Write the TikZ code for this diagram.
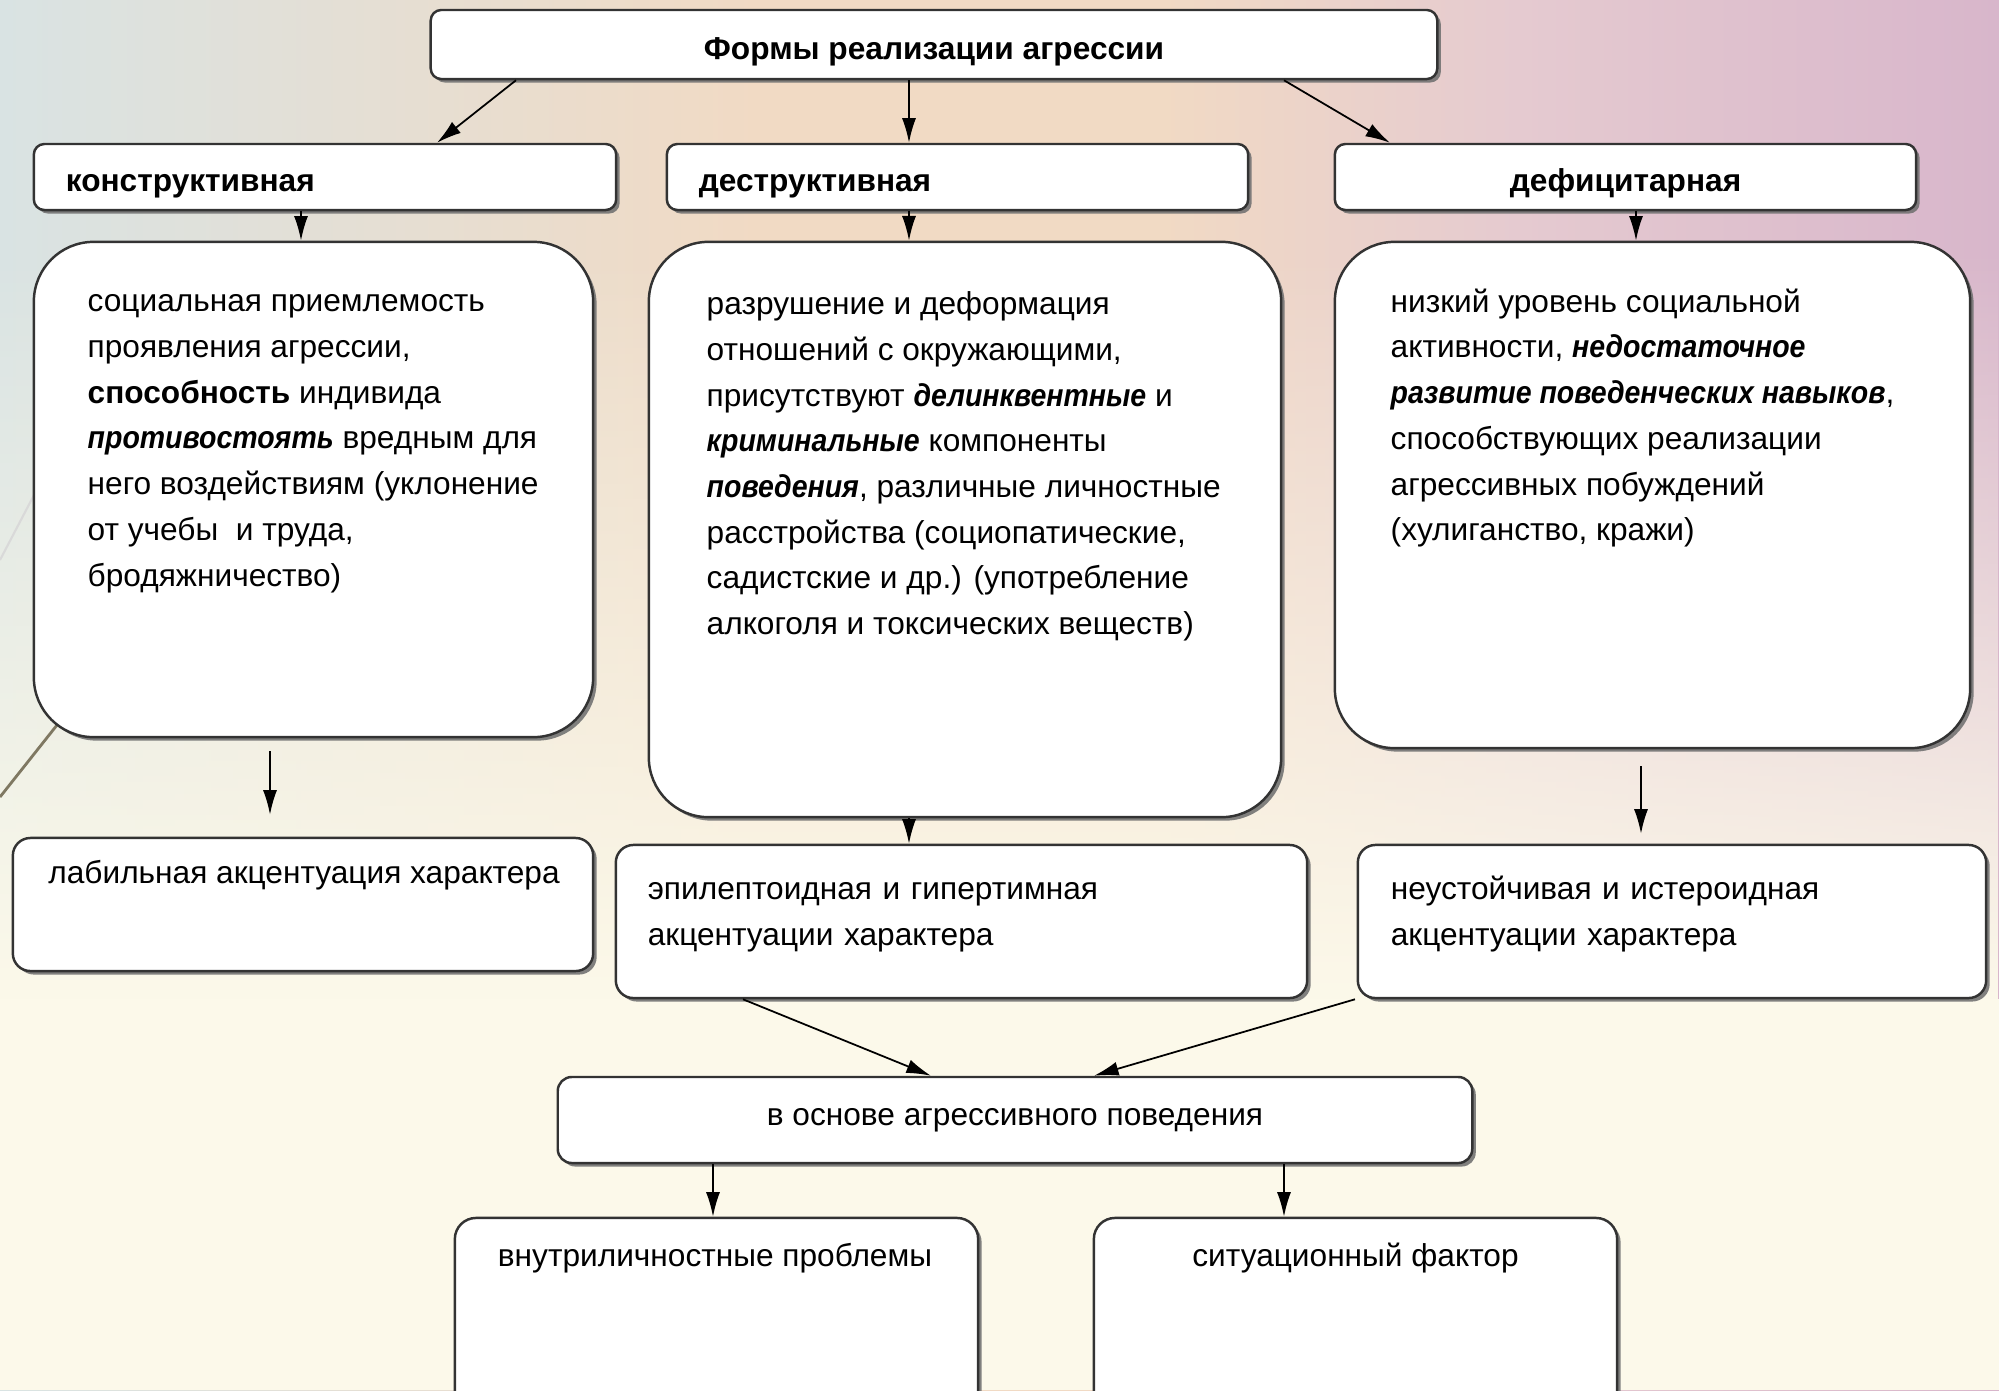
\documentclass[tikz,border=0pt]{standalone}
\usepackage{fontspec}
\setmainfont{Liberation Sans}
\usetikzlibrary{arrows.meta,shadows,fadings}

\definecolor{bgleft}{HTML}{D9E3E3}
\definecolor{bgmid}{HTML}{F1DAC4}
\definecolor{bgpink}{HTML}{E5CAD0}
\definecolor{bgright}{HTML}{D8B6CB}
\definecolor{bglow}{HTML}{FCF9EA}
\definecolor{decoline}{HTML}{7F7862}
% the path covers 25bp..75bp of the shading
\pgfdeclarehorizontalshading{bgshade}{100bp}{color(0bp)=(bgleft); color(25bp)=(bgleft);
  color(44bp)=(bgmid); color(54bp)=(bgmid); color(63bp)=(bgpink); color(75bp)=(bgright);
  color(100bp)=(bgright)}

\newcommand\bi[1]{{\bfseries\itshape\addfontfeatures{FakeStretch=0.9}#1}}

\tikzset{
  box/.style={draw=black!80, fill=white, line width=0.7pt,
    drop shadow={shadow xshift=1pt, shadow yshift=-1pt, fill=black!55, opacity=0.9}},
  headbox/.style={box, rounded corners=3pt, text height=9.8pt, text depth=1.5pt,
    font=\bfseries\fontsize{9}{11}\selectfont},
  bigbox/.style={box, rounded corners=17pt},
  accbox/.style={box, rounded corners=5pt, font=\fontsize{9}{13}\selectfont},
  txt/.style={font=\fontsize{9}{13}\selectfont, align=left, inner sep=0pt},
  arr/.style={-{Latex[length=7pt,width=4pt]}, line width=0.5pt},
}

\begin{document}
\begin{tikzpicture}[x=0.01cm, y=-0.01cm]
  \useasboundingbox (0,0) rectangle (1999,1390);
  % background
  \shade[shading=bgshade] (0,0) rectangle (1999,1390);
  \fill[bglow, path fading=north] (0,250) rectangle (1999,1000);
  \fill[bglow] (0,999) rectangle (1999,1390);
  \draw[black!15, line width=0.6pt] (0,560) -- (34,495);
  \draw[decoline, line width=0.8pt] (0,797) -- (61,720);

  % top and forms
  \node[headbox, minimum width=10.06cm, minimum height=0.69cm] (forms) at (934,44.5) {Формы реализации агрессии};
  \node[headbox, minimum height=0.66cm, text width=5.18cm, inner xsep=0.32cm, align=left] (konstr) at (325,177) {конструктивная};
  \node[headbox, minimum height=0.66cm, text width=5.17cm, inner xsep=0.32cm, align=left] (destr) at (957.5,177) {деструктивная};
  \node[headbox, minimum height=0.66cm, minimum width=5.81cm] (defic) at (1625.5,177) {дефицитарная};

  % descriptions
  \node[bigbox, minimum width=5.59cm, minimum height=4.95cm] (leftbig) at (313.5,489.5) {};
  \node[bigbox, minimum width=6.32cm, minimum height=5.75cm] (midbig) at (965,529.5) {};
  \node[bigbox, minimum width=6.35cm, minimum height=5.06cm] (rightbig) at (1652.5,495) {};
  \node[txt, anchor=north west] (lefttxt) at (87,294) {социальная приемлемость\\
    проявления агрессии,\\
    \textbf{способность} индивида\\
    \bi{противостоять} вредным для\\
    него воздействиям (уклонение\\
    от учебы \ и труда,\\
    бродяжничество)};
  \node[txt, anchor=north west] (midtxt) at (706,291) {разрушение и деформация\\
    отношений с окружающими,\\
    присутствуют \bi{делинквентные} и\\
    \bi{криминальные} компоненты\\
    \bi{поведения}, различные личностные\\
    расстройства (социопатические,\\
    садистские и др.) (употребление\\
    алкоголя и токсических веществ)};
  \node[txt, anchor=north west] (righttxt) at (1390,288) {низкий уровень социальной\\
    активности, \bi{недостаточное}\\
    \bi{развитие поведенческих навыков},\\
    способствующих реализации\\
    агрессивных побуждений\\
    (хулиганство, кражи)};

  % accentuations
  \node[accbox, minimum width=5.80cm, minimum height=1.33cm] (labil) at (303,904.5) {};
  \node[txt] (labiltxt) at ([shift={(1,38)}]labil.north) {лабильная акцентуация характера};
  \node[accbox, minimum height=1.53cm, text width=6.27cm, inner xsep=0.32cm, align=left,
    text height=7pt, text depth=19.5pt] (epil) at (961.5,921.5) {эпилептоидная и гипертимная\\акцентуации характера};
  \node[accbox, minimum height=1.53cm, text width=5.62cm, inner xsep=0.33cm, align=left,
    text height=7pt, text depth=19.5pt] (neust) at (1672,921.5) {неустойчивая и истероидная\\акцентуации характера};

  % basis
  \node[accbox, rounded corners=4pt, minimum width=9.14cm, minimum height=0.86cm] (osnova) at (1015,1120) {в основе агрессивного поведения};
  \node[accbox, rounded corners=6pt, minimum width=5.23cm, minimum height=2.02cm] (vnutri) at (716.5,1319) {};
  \node[accbox, rounded corners=6pt, minimum width=5.23cm, minimum height=2.02cm] (situ) at (1355.5,1319) {};
  \node[txt] (vnutritxt) at ([shift={(-1.5,41)}]vnutri.north) {внутриличностные проблемы};
  \node[txt] (situtxt) at ([shift={(0,41)}]situ.north) {ситуационный фактор};

  % connectors
  \draw[arr] ([shift={(-418,0)}]forms.south) -- ([shift={(112,0)}]konstr.north);
  \draw[arr] ([shift={(-25,0)}]forms.south) -- ([shift={(-48.5,0)}]destr.north);
  \draw[arr] ([shift={(350,0)}]forms.south) -- ([shift={(-235.5,0)}]defic.north);
  \foreach \a/\da/\b/\db in {konstr/-24/leftbig/-12.5, destr/-48.5/midbig/-56,
      defic/10.5/rightbig/-16.5, midbig/-56/epil/-52.5,
      osnova/-302/vnutri/-3.5, osnova/269/situ/-71.5}{
    \draw[arr] ([shift={(\da,0)}]\a.south) -- ([shift={(\db,0)}]\b.north);
  }
  \draw[arr, shorten <=0.13cm, shorten >=0.22cm] ([shift={(-43.5,0)}]leftbig.south) -- ([shift={(-33,0)}]labil.north);
  \draw[arr, shorten <=0.17cm, shorten >=0.1cm] ([shift={(-11.5,0)}]rightbig.south) -- ([shift={(-31,0)}]neust.north);
  \draw[arr] ([shift={(-218.5,0)}]epil.south) -- ([shift={(-84,0)}]osnova.north);
  \draw[arr] ([shift={(-317,0)}]neust.south) -- ([shift={(79,0)}]osnova.north);
\end{tikzpicture}
\end{document}
